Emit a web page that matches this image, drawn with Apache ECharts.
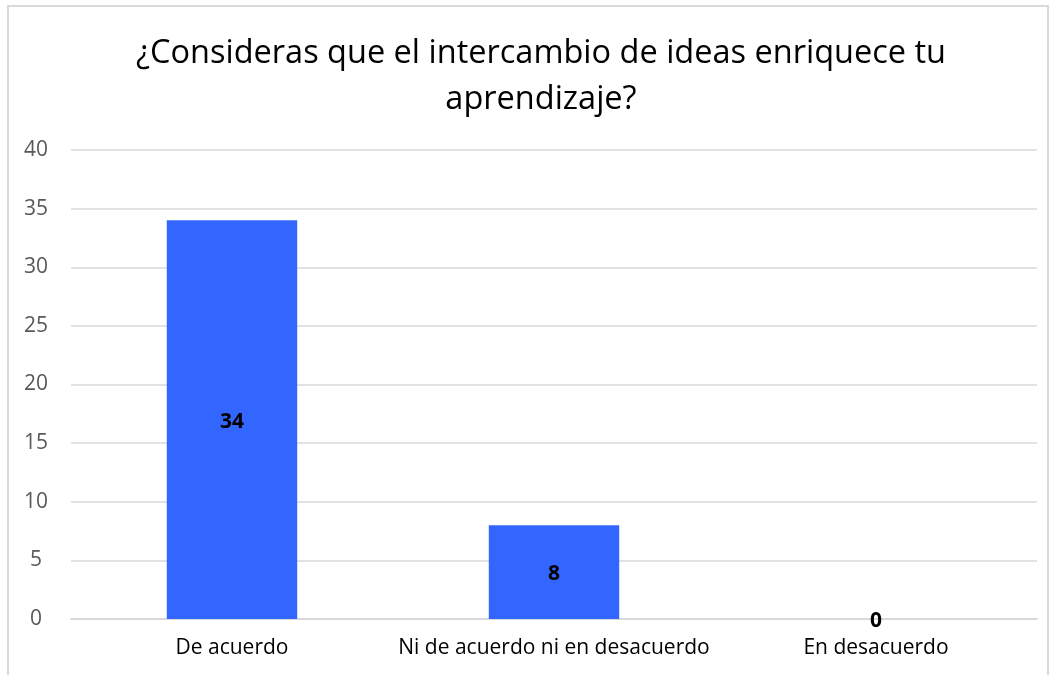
<!DOCTYPE html>
<html><head><meta charset="utf-8">
<script src="https://cdn.jsdelivr.net/npm/echarts@6/dist/echarts.min.js"></script>
<style>
html,body{margin:0;padding:0;background:#fff;overflow:hidden}
#frame{position:absolute;left:7px;top:5px;width:1042px;height:680px;border:2px solid #d9d9d9;box-sizing:border-box}
#c{position:absolute;left:0;top:0;width:1055px;height:675px}
</style></head><body>
<div id="frame"></div>
<div id="c"></div>
<script>
const titleText = "¿Consideras que el intercambio de ideas enriquece tu\naprendizaje?";
const categories = ["De acuerdo", "Ni de acuerdo ni en desacuerdo", "En desacuerdo"];
const values = [34, 8, 0];
const yMin = 0, yMax = 40, yStep = 5;

const chart = echarts.init(document.getElementById('c'));
chart.setOption({
  animation: false,
  title: {
    text: titleText, left: 536, textAlign: 'center', top: 26,
    textStyle: { fontFamily: 'Open Sans', fontSize: 32.5, fontWeight: 'normal', color: '#000', lineHeight: 46, align: 'center' }
  },
  grid: { left: 71, right: 18, top: 150, bottom: 56 },
  xAxis: {
    type: 'category', data: categories,
    axisLine: { lineStyle: { color: '#d9d9d9', width: 2 } },
    axisTick: { show: false },
    axisLabel: { color: '#000', fontFamily: 'Open Sans', fontSize: 21, margin: 19, interval: 0 }
  },
  yAxis: {
    type: 'value', min: yMin, max: yMax, interval: yStep,
    axisLine: { show: false }, axisTick: { show: false },
    splitLine: { lineStyle: { color: '#d9d9d9', width: 1.5 } },
    axisLabel: { color: '#595959', fontFamily: 'Open Sans', fontSize: 21, margin: 35, align: 'center' }
  },
  series: [{
    type: 'bar', data: values, barWidth: '40.5%',
    itemStyle: { color: '#3366ff' },
    label: { show: true, position: 'inside', offset: [0, 2], color: '#000', fontWeight: 'bold', fontFamily: 'Open Sans', fontSize: 21 }
  }]
});
</script></body></html>
